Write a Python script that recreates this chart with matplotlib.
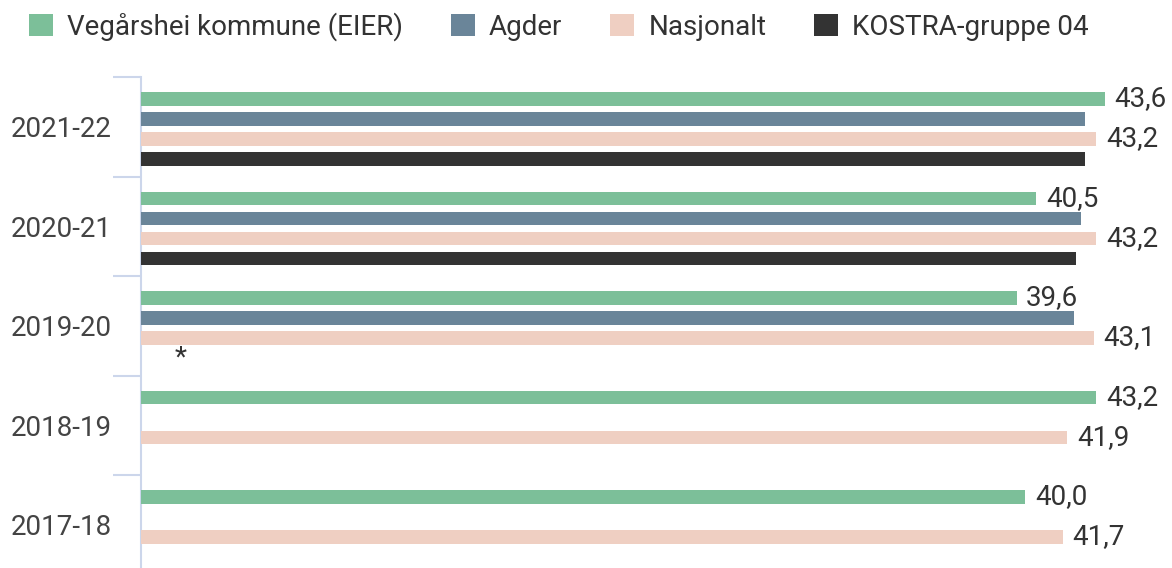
import numpy as np
import matplotlib
matplotlib.use('Agg')
import matplotlib.pyplot as plt

plt.rcParams['font.family'] = ['Roboto', 'DejaVu Sans']

kategorier = ['2021-22', '2020-21', '2019-20', '2018-19', '2017-18']
serier = ['Vegårshei kommune (EIER)', 'Agder', 'Nasjonalt', 'KOSTRA-gruppe 04']
vegarshei = [43.6, 40.5, 39.6, 43.2, 40.0]
agder = [42.7, 42.5, 42.2, np.nan, np.nan]
nasjonalt = [43.2, 43.2, 43.1, 41.9, 41.7]
kostra = [42.7, 42.3, np.nan, np.nan, np.nan]
farger = ['#7cbf99', '#6a8599', '#efcfc2', '#333333']
# hvilke serier som får verdietikett
vis_etikett = [True, False, True, False]

verdier = [vegarshei, agder, nasjonalt, kostra]

fig = plt.figure(figsize=(11.72, 5.68), dpi=100)
W, H = 1172, 568
ax = fig.add_axes([141 / W, (568 - 574.5) / H, 1017 / W, 497.5 / H])

y = np.arange(len(kategorier))
hoyde = 0.134
for k in range(4):
    pos = y + (k - 1.5) * 0.201 + 0.022
    vals = np.array(verdier[k])
    ax.barh(pos, vals, height=hoyde, color=farger[k], label=serier[k], zorder=3)
    if vis_etikett[k]:
        for p, v in zip(pos, vals):
            if np.isnan(v):
                continue
            ax.annotate(f'{v:.1f}'.replace('.', ','), (v, p), xytext=(7, 0),
                        textcoords='offset points', va='center', ha='left',
                        fontsize=20, color='#333333', annotation_clip=False)

# manglende verdi for KOSTRA 2019-20
ax.annotate('*', (0, 2 + 1.5 * 0.201 + 0.022), xytext=(28.5, 0),
            textcoords='offset points', ha='center', va='center',
            fontsize=20, color='#333333')

ax.set_xlim(0, 46)
ax.set_ylim(len(kategorier) - 0.5, -0.5)
ax.set_yticks(y)
ax.set_yticklabels(kategorier, fontsize=20, color='#444444')
ax.set_yticks(np.arange(len(kategorier) + 1) - 0.5, minor=True)
ax.tick_params(axis='y', which='major', length=0, pad=21)
ax.tick_params(axis='y', which='minor', length=20, width=1.5, color='#ccd6eb')
ax.set_xticks([])
for s in ['top', 'right', 'bottom']:
    ax.spines[s].set_visible(False)
ax.spines['left'].set_color('#ccd6eb')
ax.spines['left'].set_linewidth(1.5)

leg = fig.legend(loc='upper left', bbox_to_anchor=(10 / W, 1 + 7 / H), ncol=4,
                 frameon=False, fontsize=20, handlelength=0.86, handleheight=0.86,
                 handletextpad=0.5, columnspacing=1.73, labelcolor='#333333',
                 borderpad=0.2)

fig.savefig('out.png', dpi=100)
